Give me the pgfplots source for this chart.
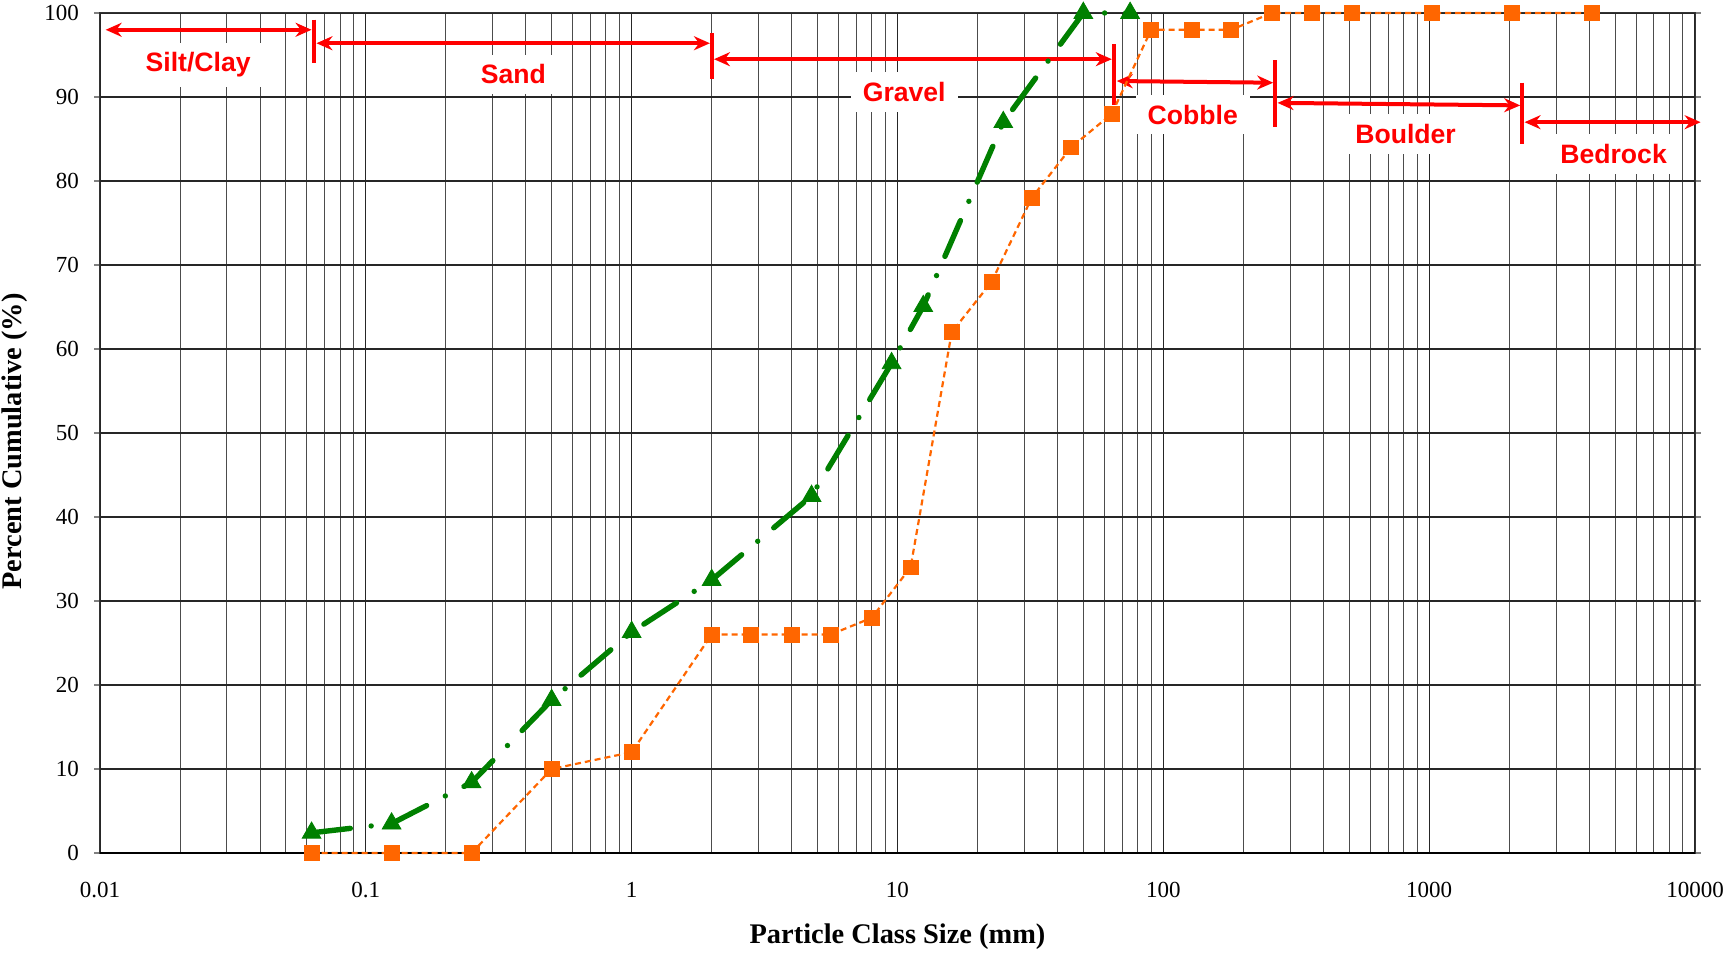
\documentclass[border=0pt]{standalone}
\usepackage{pgfplots}
\pgfplotsset{compat=1.18}
\usepackage{fontspec}
\setmainfont{Liberation Serif}
\newfontfamily\labfont{Liberation Sans}
\usetikzlibrary{arrows.meta}
\definecolor{sieveorange}{HTML}{FF6600}
\definecolor{sievegreen}{HTML}{008000}
\definecolor{zonered}{HTML}{FF0000}
\tikzset{zonelab/.style={fill=white, text=zonered, font=\labfont\fontsize{13.3bp}{15bp}\selectfont\bfseries, inner xsep=6bp, inner ysep=5bp},
  zonearrow/.style={draw=zonered, line width=2bp, {Stealth[length=8bp,width=7bp]}-{Stealth[length=8bp,width=7bp]}},
  zonetick/.style={draw=zonered, line width=2bp}}
\begin{document}
\begin{tikzpicture}
\begin{axis}[
  scale only axis, width=797.5bp, height=420bp,
  xmode=log, xmin=0.01, xmax=10000, ymin=0, ymax=100,
  xtick={0.01,0.1,1,10,100,1000,10000},
  xticklabels={0.01,0.1,1,10,100,1000,10000},
  ytick={0,10,...,100},
  grid=both,
  major grid style={draw=black!85, line width=0.55bp},
  minor grid style={draw=black!70, line width=0.45bp},
  axis line style={draw=black!80, line width=0.5bp},
  tick label style={font=\fontsize{11.5bp}{13bp}\selectfont},
  /pgf/number format/assume math mode=true,
  xtick style={draw=none}, minor tick style={draw=none},
  ytick style={draw=gray, line width=0.6bp},
  tick align=outside, major tick length=3bp,
  xticklabel style={anchor=center, yshift=-15.5bp},
  yticklabel style={anchor=east, xshift=-4bp},
  clip=false,
  xlabel={Particle Class Size (mm)},
  ylabel={Percent Cumulative (\%)},
  label style={font=\fontsize{14.2bp}{16bp}\selectfont\bfseries},
  xlabel style={at={(axis description cs:0.5,0)}, anchor=center, yshift=-42bp},
  ylabel style={at={(axis description cs:0,0.49)}, anchor=center, yshift=42.5bp},
]
\coordinate (bl) at (rel axis cs:0,0);
\coordinate (tr) at (rel axis cs:1,1);
\draw[black, line width=1bp] (rel axis cs:0,0) -- (rel axis cs:1,0);

% zone labels and arrows
\draw[zonearrow] (axis cs:0.0105,98) -- (axis cs:0.0625,98);
\draw[zonetick] (axis cs:0.0638,99.2) -- (axis cs:0.0638,94.1);
\draw[zonearrow] (axis cs:0.0652,96.4) -- (axis cs:1.97,96.4);
\draw[zonetick] (axis cs:2.0,97.6) -- (axis cs:2.0,92.1);
\draw[zonearrow] (axis cs:2.04,94.5) -- (axis cs:64,94.5);
\draw[zonetick] (axis cs:65.5,96.3) -- (axis cs:65.5,89.1);
\draw[zonearrow] (axis cs:66.8,91.9) -- (axis cs:259,91.7);
\draw[zonetick] (axis cs:264,94.4) -- (axis cs:264,86.4);
\draw[zonearrow] (axis cs:269,89.3) -- (axis cs:2200,89.0);
\draw[zonetick] (axis cs:2240,91.7) -- (axis cs:2240,84.4);
\draw[zonearrow] (axis cs:2285,87.0) -- (axis cs:10500,87.0);

\node[zonelab] at (axis cs:0.0234,93.8) {Silt/Clay};
\node[zonelab] at (axis cs:0.359,92.7) {Sand};
\node[zonelab] at (axis cs:10.6,90.6) {Gravel};
\node[zonelab] at (axis cs:129,87.9) {Cobble};
\node[zonelab] at (axis cs:815,85.6) {Boulder};
\node[zonelab] at (axis cs:4940,83.2) {Bedrock};

\addplot[color=sievegreen, line width=2.7bp, line cap=round,
  dash pattern=on 19.5bp off 10.5bp on 0bp off 10.5bp,
  mark=triangle*, mark size=5.4bp,
  mark options={solid, fill=sievegreen, line width=0.4bp}]
coordinates {
(0.0625,2.4) (0.125,3.5) (0.25,8.4) (0.5,18.2) (1,26.3) (2,32.5)
(4.75,42.5) (9.5,58.3) (12.5,65.1) (25,87.0) (50,100) (75,100)
};

\addplot[color=sieveorange, line width=1.1bp,
  dash pattern=on 3bp off 2bp,
  mark=square*, mark size=3.7bp,
  mark options={solid, fill=sieveorange, line width=0.4bp}]
coordinates {
(0.0625,0) (0.125,0) (0.25,0) (0.5,10) (1,12) (2,26) (2.8,26) (4,26)
(5.6,26) (8,28) (11.2,34) (16,62) (22.6,68) (32,78) (45,84) (64,88)
(90,98) (128,98) (180,98) (256,100) (362,100) (512,100) (1024,100)
(2048,100) (4096,100)
};
\end{axis}
\pgfresetboundingbox
\path[use as bounding box] ([shift={(-50bp,-50.5bp)}]bl) rectangle ([shift={(15.5bp,6.5bp)}]tr);
\end{tikzpicture}
\end{document}
